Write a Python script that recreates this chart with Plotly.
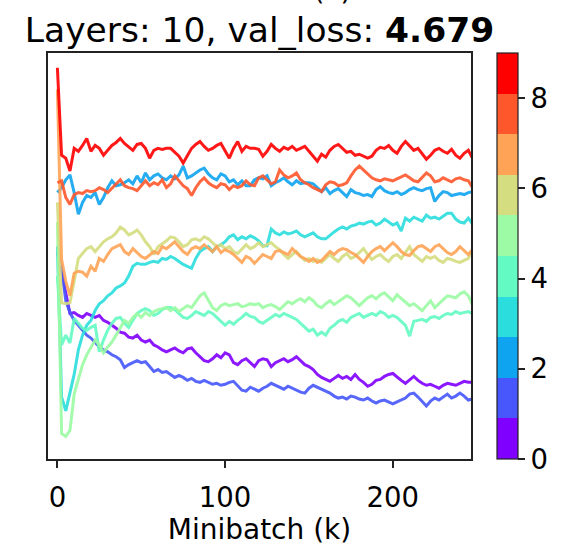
import plotly.graph_objects as go

# x positions (minibatch, in thousands)
n_points = 100
step_k = 2.5
minibatch_k = [i * step_k for i in range(n_points)]

layer_ids = list(range(10))
layer_colors = ["#8000ff", "#4757fb", "#0ea4f0", "#2bdddd", "#63fbc3",
                "#9cfba4", "#d4dd80", "#ffa457", "#ff572c", "#ff0000"]

# values (arbitrary units, no y tick labels shown)
layer0 = [211,189,166,148,149,146,144,148,146,144,
          146,141,139,136,133,129,128,124,123,126,
          121,119,121,116,114,111,109,111,113,110,
          108,112,113,108,104,100,99,102,106,103,
          108,106,98,96,100,102,98,94,100,102,
          101,94,98,100,102,99,101,104,100,96,
          94,91,86,83,81,79,82,85,82,84,
          81,86,81,78,74,76,80,81,84,86,
          87,83,80,77,81,84,80,77,75,76,
          74,72,75,77,76,75,77,79,78,78]
layer1 = [216,194,161,149,141,136,131,126,123,118,
          114,111,109,106,104,101,93,96,98,100,
          98,99,94,89,91,88,89,86,83,85,
          83,80,82,79,78,80,78,76,77,75,
          76,78,79,74,70,69,73,71,69,72,
          74,77,75,73,71,74,72,70,68,67,
          72,75,73,71,69,67,64,62,63,61,
          64,63,61,60,62,59,57,59,60,58,
          56,58,60,62,66,67,63,58,54,59,
          62,60,63,66,62,64,67,64,60,61]
layer2 = [271,276,284,289,271,249,261,268,266,271,
          259,266,276,283,278,279,281,284,280,288,
          281,291,284,288,290,286,284,288,285,289,
          298,286,288,291,294,296,290,286,284,290,
          288,282,284,279,283,278,278,284,286,285,
          288,278,281,283,286,282,279,283,280,281,
          281,280,276,272,276,270,273,275,271,267,
          274,271,270,268,269,267,274,277,273,271,
          270,272,269,271,274,276,274,273,275,276,
          262,268,272,271,268,269,270,269,271,272]
layer3 = [216,63,49,66,86,111,126,136,141,151,
          158,161,166,169,174,176,179,186,196,199,
          198,198,200,201,200,204,203,206,204,201,
          198,196,194,204,211,214,216,211,216,218,
          221,226,228,223,226,224,227,225,222,217,
          217,234,230,228,231,229,230,232,228,226,
          228,230,226,224,224,228,231,234,236,234,
          237,238,240,239,241,242,238,240,244,241,
          238,240,232,245,242,246,244,242,248,245,
          246,244,247,250,250,244,241,240,245,239]
layer4 = [186,116,126,118,143,138,133,131,134,136,
          109,121,131,138,143,144,138,134,141,148,
          151,153,151,146,148,152,154,154,152,148,
          144,143,146,150,148,146,150,148,144,140,
          136,140,137,141,144,148,145,144,140,138,
          141,144,147,145,148,146,144,142,138,134,
          130,132,126,129,126,133,136,140,142,139,
          144,146,148,144,146,148,146,150,148,144,
          146,144,140,136,125,140,141,142,140,144,
          145,143,146,148,147,150,148,149,150,148]
layer5 = [241,26,23,29,66,81,96,106,113,121,
          116,108,114,119,126,134,141,138,144,148,
          144,149,146,150,152,153,154,151,154,150,
          153,156,154,160,166,169,161,154,151,156,
          158,156,157,158,155,156,158,157,158,154,
          156,157,155,152,156,160,158,161,163,160,
          164,161,156,154,158,161,157,160,163,166,
          164,160,156,160,164,166,163,167,169,165,
          161,167,163,160,156,158,154,151,156,161,
          154,158,161,166,165,164,168,170,166,157]
layer6 = [261,159,158,159,181,204,209,214,216,211,
          216,221,224,226,230,236,233,228,230,233,
          228,221,216,208,216,219,222,226,225,221,
          216,218,223,224,222,226,224,220,216,218,
          214,216,211,209,214,218,214,216,220,216,
          218,220,216,213,208,204,208,211,206,202,
          204,201,203,200,204,208,204,201,206,209,
          204,206,210,214,208,203,206,208,204,201,
          206,208,204,210,216,208,204,201,206,204,
          206,202,200,204,203,201,200,202,204,213]
layer7 = [376,203,181,166,189,191,190,186,196,191,
          204,201,208,214,216,218,211,208,214,210,
          206,204,208,211,209,216,214,218,221,216,
          211,208,214,216,214,218,214,211,216,210,
          213,211,208,204,200,206,204,199,204,208,
          206,204,211,212,210,208,214,210,206,204,
          201,204,200,202,206,211,208,212,214,213,
          210,208,204,200,206,211,214,216,212,216,
          220,216,211,208,207,212,216,217,214,211,
          216,218,214,210,208,211,216,212,208,213]
layer8 = [281,283,266,259,269,271,270,273,272,273,
          276,274,271,275,279,284,278,276,275,273,
          278,283,278,281,279,284,276,280,288,283,
          278,275,268,276,282,286,281,278,276,280,
          279,274,278,276,278,283,279,278,286,288,
          284,280,282,294,289,286,288,291,284,281,
          279,276,274,272,279,282,281,278,279,281,
          288,294,298,294,289,286,284,283,285,284,
          283,285,287,289,286,283,282,286,291,288,
          282,283,286,284,282,285,286,284,283,276]
layer9 = [398,309,306,293,316,313,319,326,313,319,
          316,309,314,319,322,326,321,317,314,320,
          321,316,306,314,316,315,316,316,312,308,
          301,308,316,320,323,318,314,316,319,321,
          314,306,316,323,313,318,316,316,315,308,
          313,320,316,313,317,315,318,314,316,318,
          313,308,303,310,307,314,318,320,316,312,
          313,309,310,308,306,308,314,317,316,319,
          314,311,318,323,319,314,316,310,305,309,
          314,316,313,311,315,309,306,311,314,306]

layers = [layer0, layer1, layer2, layer3, layer4,
          layer5, layer6, layer7, layer8, layer9]

x_ticks = [0, 100, 200]
cbar_ticks = [0, 2, 4, 6, 8]
title_text = "Layers: 10, val_loss: <b>4.679</b>"
x_title = "Minibatch (k)"

FONT = "DejaVu Sans"

fig = go.Figure()
for lid, vals, col in zip(layer_ids, layers, layer_colors):
    fig.add_trace(go.Scatter(
        x=minibatch_k, y=vals, mode="lines",
        line=dict(color=col, width=3), opacity=0.9,
        showlegend=False, name=f"layer {lid}", hoverinfo="skip"))

# discrete colorscale for the colorbar
n = len(layer_colors)
cscale = []
for k, c in enumerate(layer_colors):
    cscale.append([k / n, c])
    cscale.append([(k + 1) / n, c])

fig.add_trace(go.Scatter(
    x=[None], y=[None], mode="markers", showlegend=False, hoverinfo="skip",
    marker=dict(color=[0], cmin=0, cmax=9, colorscale=cscale, showscale=True,
                colorbar=dict(
                    thickness=21, len=1, lenmode="fraction",
                    x=(502 - 48) / 428, xanchor="left", xpad=0,
                    y=0.5, yanchor="middle", ypad=0,
                    outlinewidth=1.2, outlinecolor="#222",
                    tickvals=cbar_ticks, ticktext=[str(t) for t in cbar_ticks],
                    ticks="outside", ticklen=7, tickwidth=1.5, tickcolor="#222",
                    tickfont=dict(family=FONT, size=27.5, color="black")))))

# top axis title, cut off by the top edge as in the reference
fig.add_annotation(text=x_title, xref="paper", yref="paper", x=0.5,
                   y=(466 - 8) / 413, yanchor="bottom", showarrow=False,
                   font=dict(family=FONT, size=28, color="black"))

fig.update_layout(
    width=561, height=546,
    margin=dict(l=48, r=85, t=53, b=80),
    paper_bgcolor="white", plot_bgcolor="white",
    title=dict(text=title_text, x=0.5, xref="paper", xanchor="center",
               y=1 - 30 / 546, yref="container", yanchor="middle",
               font=dict(family=FONT, size=34.5, color="black")),
    xaxis=dict(range=[-5.6, 246.6], tickvals=x_ticks,
               ticks="outside", ticklen=7, tickwidth=1.5, tickcolor="#222",
               ticklabelstandoff=6,
               showline=True, linecolor="#222", linewidth=1.5, mirror=True,
               showgrid=False, zeroline=False,
               tickfont=dict(family=FONT, size=27.5, color="black"),
               title=dict(text=x_title, standoff=2,
                          font=dict(family=FONT, size=28, color="black"))),
    yaxis=dict(range=[0, 413], showticklabels=False, ticks="",
               showline=True, linecolor="#222", linewidth=1.5, mirror=True,
               showgrid=False, zeroline=False),
)

fig.write_html("out.html")
